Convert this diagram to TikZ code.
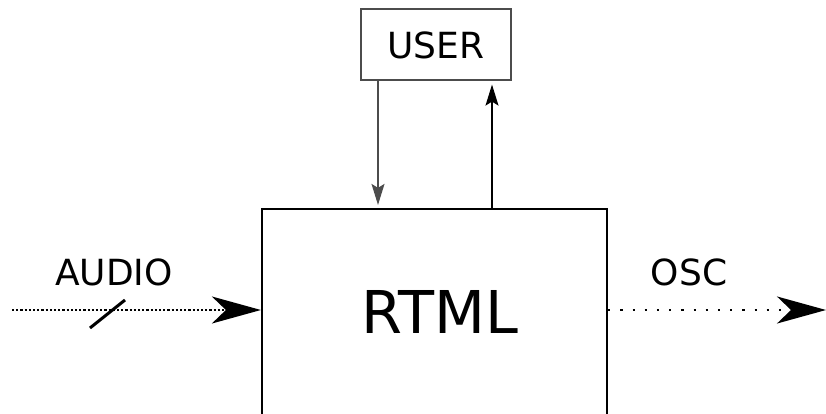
\documentclass[tikz,border=0pt]{standalone}
\usepackage{fontspec}
\setmainfont{DejaVu Sans}
\usetikzlibrary{arrows.meta}
\begin{document}
\begin{tikzpicture}[x=1pt,y=-1pt,
  thinbox/.style={draw=black!70,line width=1.2pt,inner sep=0pt},
  mainbox/.style={draw=black,line width=2.2pt,inner sep=0pt},
  lbl/.style={font=\fontsize{36}{40}\selectfont,inner sep=0pt},
  bigtip/.style={-{Stealth[length=49pt,width=27pt,inset=14pt]}},
  smalltip/.style={-{Stealth[length=21pt,width=13pt,inset=4pt]}},
  thinline/.style={line width=1.4pt}]
\useasboundingbox (0,0) rectangle (826,414);
% blocks
\node[thinbox,minimum width=150pt,minimum height=71pt] (user) at (436,44.5) {};
\node[lbl] at (436,45) {USER};
\node[mainbox,minimum width=345pt,minimum height=240pt] (rtml) at (434.5,329) {};
\node[font=\fontsize{59}{64}\selectfont,inner sep=0pt] at (440,312) {RTML};
% control lines between user and engine
\coordinate (dtop) at (user.south -| 378,0);
\coordinate (dbot) at ([yshift=3pt]rtml.north -| 378,0);
\coordinate (utop) at ([yshift=-4pt]user.south -| 492,0);
\coordinate (ubot) at (rtml.north -| 492,0);
\draw[thinline,black!70,smalltip] (dtop) -- (dbot);
\draw[thinline,smalltip] (ubot) -- (utop);
% signal input
\coordinate (ain) at (12,310);
\coordinate (aend) at (rtml.west |- 0,310);
\draw[line width=2.2pt,dash pattern=on 2.2pt off 2pt,bigtip] (ain) -- (aend);
\draw[line width=3pt] (90,328) -- (125,300);
\node[lbl] at (114,272) {AUDIO};
% message output
\coordinate (ostart) at (rtml.east |- 0,310);
\coordinate (oend) at (826,310);
\draw[line width=2.2pt,dash pattern=on 2.2pt off 10pt,bigtip] (ostart) -- (oend);
\node[lbl] at (689,272) {OSC};
\end{tikzpicture}
\end{document}
